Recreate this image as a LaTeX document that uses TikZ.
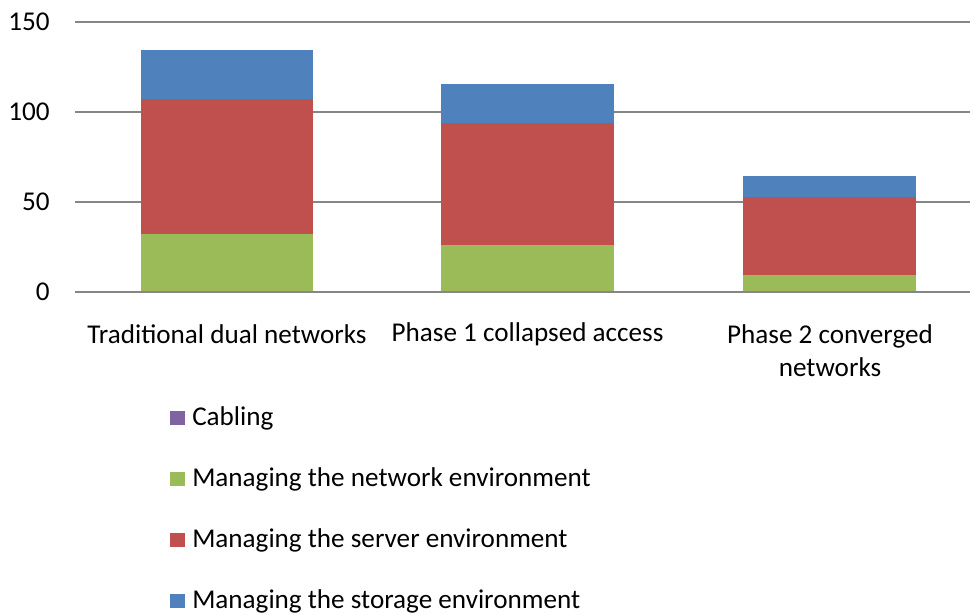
\documentclass[tikz,border=0pt]{standalone}
\usepackage{fontspec}
\setmainfont{Carlito}
\usetikzlibrary{positioning}

\definecolor{storageblue}{HTML}{4F81BD}
\definecolor{serverred}{HTML}{C0504D}
\definecolor{networkgreen}{HTML}{9BBB59}
\definecolor{cablingpurple}{HTML}{8064A2}
\definecolor{gridgray}{HTML}{868686}

\begin{document}
\begin{tikzpicture}[
        x=0.025cm, y=-0.025cm,
        every node/.style={font=\fontsize{19.3}{23.4}\selectfont, inner sep=0pt},
        grid/.style={draw=gridgray, line width=1pt},
        axisline/.style={draw=gridgray, line width=1.3pt},
        tick/.style={anchor=east},
        catlabel/.style={align=center},
        legkey/.style={rectangle, minimum width=0.375cm, minimum height=0.35cm},
        legtext/.style={right=0.18cm of #1, anchor=west}
    ]
        \useasboundingbox (0,0) rectangle (970,614);

        % Plot area (value units)
        \begin{scope}[shift={(0,291.7)}, y=0.0449cm]
            % Gridlines
            \foreach \v in {50,100,150}
                \draw[grid] (75,\v) -- (970,\v);

            % Stacked bars
            \foreach \xl/\g/\r/\b in {140.7/32.1/107.5/134.4, 441/26.0/93.8/115.6, 743.3/9.1/52.6/64.4} {
                \fill[networkgreen] (\xl,0) rectangle (\xl+172.7,\g);
                \fill[serverred] (\xl,\g) rectangle (\xl+172.7,\r);
                \fill[storageblue] (\xl,\r) rectangle (\xl+172.7,\b);
            }

            \draw[axisline] (75,0) -- (970,0);

            % Tick labels
            \foreach \v in {0,50,100,150}
                \node[tick] (tick\v) at (50,\v) {\v};
        \end{scope}

        % Category labels
        \node[catlabel] (cat1) at (227,334) {Traditional dual networks};
        \node[catlabel] (cat2) at (527.5,334) {Phase 1 collapsed access};
        \node[catlabel] (cat3) at (830,350.5) {Phase 2 converged\\networks};

        % Legend
        \foreach \col/\txt [count=\i] in {cablingpurple/Cabling,
                networkgreen/Managing the network environment,
                serverred/Managing the server environment,
                storageblue/Managing the storage environment} {
            \node[legkey, fill=\col] (key\i) at (177,{418+61*(\i-1)}) {};
            \node[legtext=key\i] (leg\i) {\txt};
        }
\end{tikzpicture}
\end{document}
